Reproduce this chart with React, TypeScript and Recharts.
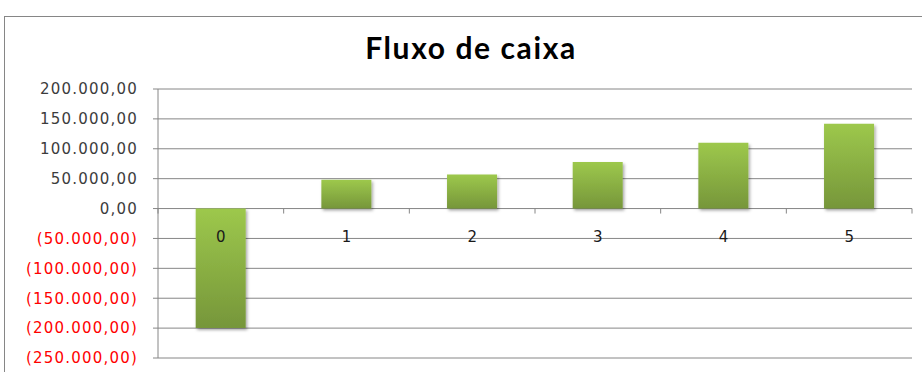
import React from "react";
import { BarChart, Bar, XAxis, YAxis, CartesianGrid } from "recharts";

// períodos e fluxo de caixa de cada um
const periods = ["0", "1", "2", "3", "4", "5"];
const cashFlow = [-200000, 48000, 57000, 78000, 110000, 142000];
const yTicks = [200000, 150000, 100000, 50000, 0, -50000, -100000, -150000, -200000, -250000];

const data = periods.map((p, i) => ({ period: p, value: cashFlow[i] }));

const W = 922;
const H = 372;
const margin = { top: 89, right: 10, bottom: 13, left: 0 };
const Y_AXIS_W = 158;
const X_AXIS_H = 1;
const Y_MIN = -250000;
const Y_MAX = 200000;

const plotW = W - margin.left - margin.right - Y_AXIS_W;
const plotH = H - margin.top - margin.bottom - X_AXIS_H;
// the category labels sit on the zero line, not at the bottom of the plot
const zeroY = margin.top + (plotH * Y_MAX) / (Y_MAX - Y_MIN);
const band = plotW / periods.length;

const GRID = "#868686";
const FONT = "'DejaVu Sans', Verdana, sans-serif";

const money = (v: number) => {
  const s = Math.abs(v).toFixed(0).replace(/\B(?=(\d{3})+(?!\d))/g, ".") + ",00";
  return v < 0 ? `(${s})` : s;
};

const YTick = ({ x, y, payload }: any) => (
  <text
    x={x}
    y={y}
    dy="0.355em"
    textAnchor="end"
    fontFamily={FONT}
    fontSize={15}
    letterSpacing={1.2}
    fill={payload.value < 0 ? "#ff0000" : "#3c3c3c"}
  >
    {money(payload.value)}
  </text>
);

const XTick = ({ x, index, payload }: any) => (
  <g>
    {index === 0 && (
      <line x1={x - band / 2} x2={x - band / 2} y1={zeroY} y2={zeroY + 5} stroke={GRID} />
    )}
    <line x1={x + band / 2} x2={x + band / 2} y1={zeroY} y2={zeroY + 5} stroke={GRID} />
    <text
      x={x}
      y={zeroY + 33}
      textAnchor="middle"
      fontFamily={FONT}
      fontSize={15}
      fill="#1a1a1a"
    >
      {payload.value}
    </text>
  </g>
);

export default function App() {
  return (
    <div
      style={{
        position: "absolute",
        left: 0,
        top: 0,
        width: W,
        height: H,
        background: "#fff",
        overflow: "hidden",
      }}
    >
      <div
        style={{
          position: "absolute",
          left: 4,
          top: 16,
          width: 1000,
          height: 500,
          borderTop: `1px solid ${GRID}`,
          borderLeft: `1px solid ${GRID}`,
        }}
      />
      <div
        style={{
          position: "absolute",
          left: 4,
          top: 33,
          width: 934,
          textAlign: "center",
          fontFamily: "Lato, sans-serif",
          fontWeight: 700,
          fontSize: 30,
          lineHeight: "29px",
          letterSpacing: 1.6,
          color: "#000",
        }}
      >
        Fluxo de caixa
      </div>
      <div style={{ position: "absolute", left: 0, top: 0 }}>
        <BarChart width={W} height={H} data={data} margin={margin} barCategoryGap="30%">
          <defs>
            <linearGradient id="barFill" x1="0" y1="0" x2="0" y2="1">
              <stop offset="0%" stopColor="#9dc84c" />
              <stop offset="100%" stopColor="#76963a" />
            </linearGradient>
            <filter id="barShadow" x="-20%" y="-20%" width="150%" height="150%">
              <feDropShadow dx="1.5" dy="2" stdDeviation="1.5" floodColor="#000" floodOpacity="0.35" />
            </filter>
          </defs>
          <CartesianGrid vertical={false} stroke={GRID} />
          <YAxis
            width={Y_AXIS_W}
            domain={[Y_MIN, Y_MAX]}
            ticks={yTicks}
            interval={0}
            axisLine={{ stroke: GRID }}
            tickLine={{ stroke: GRID }}
            tickSize={5}
            tickMargin={15}
            tick={<YTick />}
          />
          <Bar
            dataKey="value"
            fill="url(#barFill)"
            filter="url(#barShadow)"
            isAnimationActive={false}
          />
          <XAxis
            dataKey="period"
            height={X_AXIS_H}
            axisLine={false}
            tickLine={false}
            interval={0}
            tick={<XTick />}
          />
        </BarChart>
      </div>
    </div>
  );
}
